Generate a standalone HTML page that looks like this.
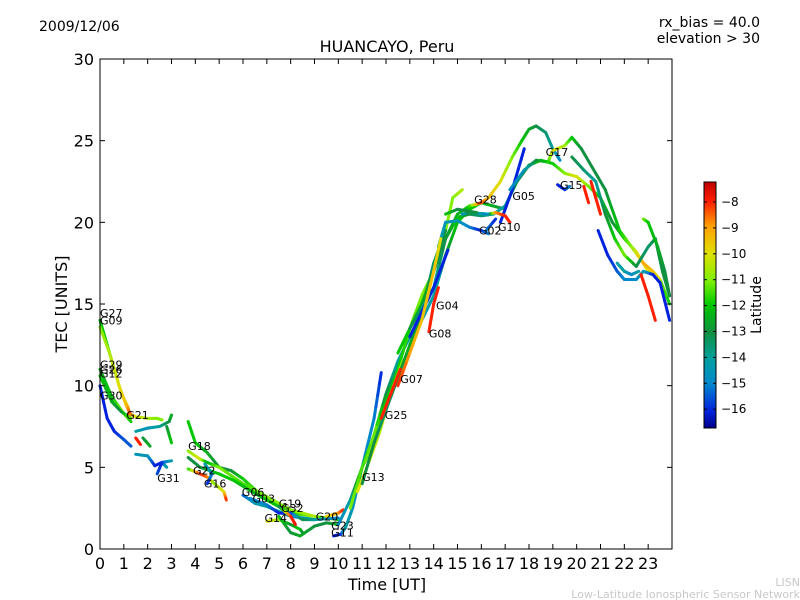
<!DOCTYPE html>
<html><head><meta charset="utf-8"><style>
body{margin:0;background:#fff;}
svg{display:block;font-family:"DejaVu Sans","Liberation Sans",sans-serif;}
</style></head><body>
<svg id="chart" width="800" height="600" xmlns="http://www.w3.org/2000/svg">
<defs>
<linearGradient id="cbg" x1="0" y1="1" x2="0" y2="0">
<stop offset="0" stop-color="#00008b"/><stop offset="0.07" stop-color="#0022dd"/><stop offset="0.18" stop-color="#0088cc"/><stop offset="0.28" stop-color="#00a0a0"/><stop offset="0.39" stop-color="#109040"/><stop offset="0.50" stop-color="#00c800"/><stop offset="0.60" stop-color="#80f000"/><stop offset="0.71" stop-color="#e0e000"/><stop offset="0.82" stop-color="#ffa000"/><stop offset="0.92" stop-color="#ff2000"/><stop offset="1" stop-color="#c00000"/>
</linearGradient>
</defs>
<text x="39" y="31" font-size="14">2009/12/06</text>
<text x="760" y="27" font-size="14" text-anchor="end">rx_bias = 40.0</text>
<text x="760" y="43" font-size="14" text-anchor="end">elevation &gt; 30</text>
<text x="387" y="52" font-size="16" text-anchor="middle">HUANCAYO, Peru</text>
<text x="387" y="590" font-size="16" text-anchor="middle">Time [UT]</text>
<text transform="translate(67,304) rotate(-90)" font-size="16" text-anchor="middle">TEC [UNITS]</text>
<text x="800" y="586" font-size="11" fill="#c8c8c8" text-anchor="end">LISN</text>
<text x="800" y="598" font-size="11" fill="#c8c8c8" text-anchor="end">Low-Latitude Ionospheric Sensor Network</text>
<g id="plot"></g>
<rect x="704" y="182" width="12" height="246" fill="url(#cbg)" stroke="#000" stroke-width="1"/>
<g id="cbticks"></g>
<text transform="translate(761,305) rotate(-90)" font-size="14" text-anchor="middle">Latitude</text>
</svg>
<script>
const xTicks=[0,1,2,3,4,5,6,7,8,9,10,11,12,13,14,15,16,17,18,19,20,21,22,23];
const yTicks=[0,5,10,15,20,25,30];
const cbTicks=[-8,-9,-10,-11,-12,-13,-14,-15,-16];
// tracks: [time, tec, latitude]
const tracks=[
[[0,14,-12],[0.3,12.5,-12],[0.6,11,-11],[0.9,9.5,-10.5],[1.2,8.6,-9]],
[[0,13.6,-11],[0.4,12,-10.5],[0.8,10,-10],[1.1,8.8,-9.5],[1.3,8.2,-8]],
[[0,11,-12.5],[0.5,9.3,-12],[1,8.3,-11],[1.3,7.8,-12]],
[[0,10.6,-12],[0.5,9,-12.5],[0.9,8.4,-13],[1.3,8,-11]],
[[0,10,-16],[0.3,8,-16],[0.6,7.2,-16],[1.0,6.7,-15.5],[1.3,6.3,-15.5]],
[[1.2,8.3,-8],[1.5,8.1,-10],[2,8,-10.5],[2.4,8,-11],[2.6,7.9,-11]],
[[1.5,7.2,-14],[2,7.4,-14.5],[2.5,7.5,-14],[2.9,7.8,-13],[3,8.2,-12.5]],
[[1.5,6.8,-8],[1.7,6.4,-8]],
[[1.8,6.8,-13],[2.1,6.3,-12.5]],
[[1.5,5.8,-14.5],[2,5.7,-14.5],[2.3,5.1,-16],[2.6,5.3,-16],[2.8,5.0,-14]],
[[2.4,4.6,-15.5],[2.6,5.3,-16],[3,5.4,-14]],
[[2.8,7.5,-13],[3,6.5,-12]],
[[3.7,7.8,-12],[4,6.5,-12],[4.5,5.9,-12.5],[5,5,-13],[5.5,4.8,-13],[6,4.3,-12],[7,3,-11],[8,2.2,-12],[9,2,-11],[10,1.8,-12]],
[[3.7,6,-11],[4.2,5.5,-10],[4.5,5.3,-12.5],[5,5,-11],[6,4,-11.5],[7,3.2,-11],[8,2.4,-11],[9,2,-10.5]],
[[3.7,5.6,-13],[4.2,5,-13],[5,4.6,-12],[5.6,4.2,-12],[6.5,3.4,-12.5],[7.5,2.6,-12]],
[[3.7,4.9,-12],[4.2,4.6,-8],[4.5,4.4,-8.5],[4.8,4,-11],[5.2,3.5,-10],[5.3,3.0,-8]],
[[4.4,5.2,-14],[4.7,4.6,-14.5],[4.5,4.0,-16]],
[[6,3.3,-15.5],[6.5,2.8,-14.5],[7,2.6,-14],[7.5,2.3,-14],[8,2,-15],[9,1.8,-14],[10,1.9,-15]],
[[6.3,3.1,-15],[7,2.7,-15],[7.5,2.2,-16],[8,2.2,-16],[8.5,1.8,-13],[9,1.8,-14]],
[[7,1.7,-10],[7.5,1.8,-10.5],[8,1.5,-13],[8.4,1.2,-12],[8.5,1,-13]],
[[7.5,2.6,-14],[8,2,-8],[8.2,1.5,-7.8]],
[[7.5,2,-12],[8,1,-13],[8.4,0.8,-12.5],[9,1.4,-13],[9.5,1.6,-13],[10,1.5,-12.5]],
[[9.5,2,-10],[10,2.2,-9],[10.2,2.4,-8]],
[[9.8,0.8,-16],[10.1,0.9,-16],[10.3,1.3,-14],[10.6,2.5,-14.5],[11,5,-15],[11.5,8,-15],[11.8,10.8,-16]],
[[10,1.5,-15],[10.5,3,-14],[11,5,-12],[11.5,7,-11],[12,9.5,-13],[12.5,11.5,-14],[13,13,-14],[13.5,14,-14.5],[14,15.5,-14],[14.3,17,-14],[14.5,18,-13],[15,20,-12],[15.5,20.8,-12],[16,21.2,-12],[16.5,21,-12.5],[17,20.8,-13]],
[[10.5,2.5,-11],[11,5,-11.5],[11.5,6.5,-11],[12,9,-12],[12.5,11,-12],[13,13.5,-11.5],[13.5,15.5,-11],[14,17,-11.5],[14.5,19.5,-11],[14.8,21.5,-11],[15.2,22,-10.5]],
[[10.8,3.5,-10],[11.2,5,-10],[11.7,7,-10.5],[12.2,9.5,-10],[12.7,11.5,-11]],
[[11,4,-13],[11.5,6.5,-13],[12,8.5,-13.5],[12.5,10.5,-13],[13,12.5,-12.5],[13.5,14.5,-13],[14,17.5,-13.5],[14.5,19.5,-13]],
[[12.5,12,-12],[13,13.5,-12],[13.5,15,-12.5],[14,17,-13],[14.5,19,-13],[15,20.5,-12.5],[15.5,21,-12],[16,21.2,-8],[16.3,21.5,-9.5],[16.8,22.5,-10],[17.3,24,-11],[17.7,25,-12],[18,25.7,-12.5],[18.3,25.9,-13],[18.7,25.5,-13.5],[19,24.5,-14],[19.3,23.8,-15]],
[[13,13.5,-13],[14,16,-14],[14.5,19,-13],[15,20.3,-12],[15.5,20.5,-13],[16,20.4,-13.5],[16.5,20.5,-14],[17,21,-14],[17.5,22.5,-13],[18,23.5,-13],[18.5,23.8,-12],[19,23.6,-12],[19.5,23,-11],[20,22.8,-10],[20.5,22.2,-11],[21,21.5,-12],[21.5,20,-13],[22,19,-12],[22.5,18.2,-10],[23,17,-10],[23.5,16.5,-11],[23.9,15,-12]],
[[16.8,20,-16],[17.3,22,-16],[17.8,24.5,-16]],
[[17.2,22,-15],[17.8,23.2,-14.5],[18.3,23.8,-13],[18.8,23.7,-12],[19,24.4,-10],[19.5,24.7,-10.5],[19.8,25.2,-12],[20.2,24.5,-13],[20.8,23,-13],[21.2,22,-13],[21.8,19.5,-12],[22.3,18.5,-11],[22.8,17.5,-9],[23.2,17,-9.5],[23.5,16.5,-10]],
[[19.8,24,-13],[20.3,23.2,-13.5],[20.8,22.5,-14],[21.2,20.5,-13],[21.6,19,-12],[22,18,-11],[22.5,17.3,-13],[23,18.5,-13.5],[23.3,19,-13],[23.6,17,-13],[23.9,15.5,-13]],
[[19.2,22.3,-16],[19.5,22,-16],[19.7,22.2,-15]],
[[20.6,22.5,-8],[20.8,21.5,-8],[21,20.5,-8]],
[[20.3,22.2,-8],[20.5,21.2,-8]],
[[20.9,19.5,-16],[21.3,18,-16],[21.7,17,-15.5],[22,16.5,-15],[22.5,16.5,-15],[22.8,17,-14],[23.2,16.8,-16],[23.5,16.3,-16],[23.9,14,-16]],
[[21.7,17.5,-14],[22,17,-14],[22.3,16.8,-15],[22.6,17,-14]],
[[22.8,20.2,-11],[23,20,-12],[23.4,18.5,-12.5],[23.7,17,-13],[23.9,15.5,-13]],
[[22.7,16.8,-8],[23,15.5,-8],[23.3,14,-8]],
[[14.2,18.5,-14],[14.5,20,-14.5],[15,20.1,-14.5],[15.5,19.7,-15],[16,19.5,-16],[16.3,19.3,-15]],
[[15.2,20.5,-15],[15.5,20.6,-13],[16.3,20.5,-15],[16.6,20.6,-9],[17,20.4,-8],[17.2,20,-8]],
[[16.2,19.5,-15],[16.6,20.2,-16]],
[[14.5,20.5,-12],[15,20.8,-13],[15.8,20.6,-13]],
[[13,13,-16],[13.5,14.5,-16],[14,16,-16],[14.6,18.3,-16]],
[[13.8,13.3,-8],[14,15,-8],[14.2,16,-8]],
[[12.5,10,-8],[13,12,-9],[13.5,14,-9.5],[14,17,-9.5],[14.3,19,-10]],
[[11.8,8,-8],[12.2,9.5,-8],[12.6,11,-8]]
];
const labelNames=["G27","G09","G29","G26","G12","G30","G21","G31","G18","G22","G16","G06","G03","G19","G32","G14","G20","G23","G11","G13","G25","G07","G08","G04","G02","G10","G28","G05","G17","G15"];
const labelT=[0,0,0,0,0,0,1.1,2.4,3.7,3.9,4.36,5.95,6.4,7.5,7.6,6.9,9.05,9.7,9.7,11.0,11.95,12.6,13.8,14.1,15.9,16.7,15.7,17.3,18.7,19.3];
const labelTec=[14.45,14.0,11.3,11.0,10.75,9.4,8.2,4.35,6.3,4.8,4.0,3.5,3.1,2.8,2.5,1.9,2.0,1.45,1.0,4.4,8.2,10.4,13.2,14.9,19.5,19.7,21.4,21.6,24.3,22.3];

const X0=100,X1=672,Y0=549,Y1=59;
const xs=t=>X0+t*(X1-X0)/24;
const ys=v=>Y0-v*(Y0-Y1)/30;
const cbY=l=>202+(-8-l)*25.9;
const stops=[[-16.7,[0,0,139]],[-16,[0,34,221]],[-15,[0,136,204]],[-14,[0,160,160]],[-13,[16,144,64]],[-12,[0,200,0]],[-11,[128,240,0]],[-10,[224,224,0]],[-9,[255,160,0]],[-8,[255,32,0]],[-7.2,[192,0,0]]];
function col(l){
 if(l<=stops[0][0])return 'rgb('+stops[0][1]+')';
 for(let i=1;i<stops.length;i++){if(l<=stops[i][0]){const a=stops[i-1],b=stops[i],f=(l-a[0])/(b[0]-a[0]);return 'rgb('+a[1].map((c,k)=>Math.round(c+(b[1][k]-c)*f)).join(',')+')';}}
 return 'rgb('+stops[stops.length-1][1]+')';
}
const NS='http://www.w3.org/2000/svg';
const plot=document.getElementById('plot');
function mk(tag,attrs,parent){const e=document.createElementNS(NS,tag);for(const k in attrs)e.setAttribute(k,attrs[k]);parent.appendChild(e);return e;}
tracks.forEach((tr,ti)=>{
 const g=mk('g',{},plot);
 
 
 for(let i=1;i<tr.length;i++){
  const a=tr[i-1],b=tr[i];
  const n=4;
  for(let s=0;s<n;s++){
   const f0=s/n,f1=(s+1)/n,fm=(s+0.5)/n;
   const l=mk('line',{x1:xs(a[0]+(b[0]-a[0])*f0),y1:ys(a[1]+(b[1]-a[1])*f0),x2:xs(a[0]+(b[0]-a[0])*f1),y2:ys(a[1]+(b[1]-a[1])*f1),stroke:col(a[2]+(b[2]-a[2])*fm),'stroke-width':3,'stroke-linecap':'round'},g);
   
   
  }
 }
});
labelNames.forEach((n,i)=>{
 const t=mk('text',{x:xs(labelT[i]),y:ys(labelTec[i])+4,'font-size':11},plot);
 t.textContent=n;
 
 
});
const fr=mk('rect',{x:X0,y:Y1,width:X1-X0,height:Y0-Y1,fill:'none',stroke:'#000','stroke-width':1},plot);


xTicks.forEach(v=>{
 const x=xs(v);
 mk('line',{x1:x,y1:Y0,x2:x,y2:Y0-5,stroke:'#000'},plot);
 mk('line',{x1:x,y1:Y1,x2:x,y2:Y1+5,stroke:'#000'},plot);
 const t=mk('text',{x:x,y:Y0+20,'font-size':16,'text-anchor':'middle'},plot);
 t.textContent=v;
 
 
});
yTicks.forEach(v=>{
 const y=ys(v);
 mk('line',{x1:X0,y1:y,x2:X0+5,y2:y,stroke:'#000'},plot);
 mk('line',{x1:X1,y1:y,x2:X1-5,y2:y,stroke:'#000'},plot);
 const t=mk('text',{x:X0-6,y:y+6,'font-size':16,'text-anchor':'end'},plot);
 t.textContent=v;
 
 
});
const cbt=document.getElementById('cbticks');
cbTicks.forEach(v=>{
 const y=cbY(v);
 mk('line',{x1:704,y1:y,x2:707,y2:y,stroke:'#000'},cbt);
 mk('line',{x1:716,y1:y,x2:713,y2:y,stroke:'#000'},cbt);
 const t=mk('text',{x:721,y:y+4,'font-size':12},cbt);
 t.textContent='\u2212'+Math.abs(v);
 
 
});
</script>
</body></html>
